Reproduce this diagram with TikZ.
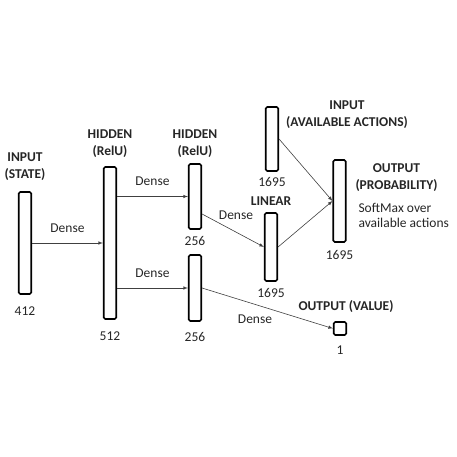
\documentclass[tikz,border=0pt]{standalone}
\usepackage{fontspec}
\setmainfont{Carlito}
\usepackage{tikz}

\tikzset{
    layer/.style={draw, line width=1.6pt, rounded corners=1.5pt, minimum width=12.5pt, inner sep=0pt},
    head/.style={font=\fontsize{13.5}{17}\selectfont\bfseries, align=center, text=black!85},
    size/.style={font=\fontsize{13.5}{15}\selectfont, text=black!85},
    conn/.style={-latex, line width=0.6pt, draw=black!75}
}

\begin{document}
\begin{tikzpicture}[x=1pt,y=-1pt]
    \useasboundingbox (0,0) rectangle (457,457);

    \coordinate (S) at (25, 243);
    \coordinate (H1) at (110, 243);
    \coordinate (H2) at (195, 196.5);
    \coordinate (H3) at (195, 288);
    \coordinate (AV) at (272, 139);
    \coordinate (LN) at (271, 247);
    \coordinate (PR) at (339.5, 201);
    \coordinate (VL) at (340, 328.5);

    \node[layer, minimum height=102pt] (state) at (S) {}; % input state
    \node[layer, minimum height=152pt] (hid1) at (H1) {}; % hidden 1
    \node[layer, minimum height=65pt] (hid2) at (H2) {}; % hidden policy
    \node[layer, minimum height=66pt] (hid3) at (H3) {}; % hidden value
    \node[layer, minimum height=64pt] (avail) at (AV) {}; % available actions
    \node[layer, minimum height=68pt] (linear) at (LN) {}; % linear
    \node[layer, minimum height=82pt] (prob) at (PR) {}; % probability
    \node[layer, minimum height=13pt] (value) at (VL) {}; % value

    \node[head] (stateT) at (25, 166.5) {INPUT\\(STATE)};
    \node[head] (hid1T) at (110, 143.5) {HIDDEN\\(RelU)};
    \node[head] (hid2T) at (195, 143.5) {HIDDEN\\(RelU)};
    \node[head] (availT) at (347, 115) {INPUT\\(AVAILABLE ACTIONS)};
    \node[head] (linearT) at (271, 201) {LINEAR};
    \node[head] (probT) at (396.5, 177.5) {OUTPUT\\(PROBABILITY)};
    \node[head] (valueT) at (346, 307) {OUTPUT (VALUE)};
    \node[size, align=left, anchor=west] (softT) at (355, 215.5) {SoftMax over\\available actions};

    \node[size] (stateN) at (25, 311) {412};
    \node[size] (hid1N) at (110, 336) {512};
    \node[size] (hid2N) at (195, 241) {256};
    \node[size] (hid3N) at (195, 337) {256};
    \node[size] (availN) at (272, 182) {1695};
    \node[size] (linearN) at (271, 293) {1695};
    \node[size] (probN) at (339.5, 255) {1695};
    \node[size] (valueN) at (340, 350) {1};

    \draw[conn] (state.east) -- (hid1.west) node[size, midway, above=7pt] (d1) {Dense};
    \draw[conn] (hid1.east |- hid2) -- (hid2.west) node[size, midway, above=7pt] (d2) {Dense};
    \draw[conn] (hid1.east |- hid3) -- (hid3.west) node[size, midway, above=7pt] (d3) {Dense};
    \draw[conn] ([yshift=-17.5pt]hid2.east) -- (linear.west);
    \draw[conn] (hid3.east) -- (value.west);
    \draw[conn] (avail.east) -- (prob.west);
    \draw[conn] (linear.east) -- (prob.west);

    \node[size] (d4) at (236, 215) {Dense};
    \node[size] (d5) at (255, 319) {Dense};
\end{tikzpicture}
\end{document}
